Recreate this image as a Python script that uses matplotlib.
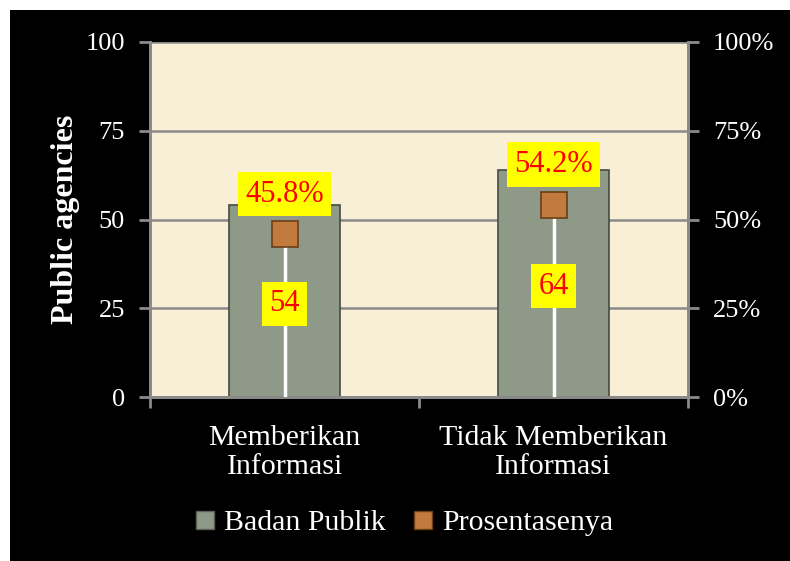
import matplotlib
matplotlib.use("Agg")
import matplotlib.pyplot as plt
from matplotlib.patches import Rectangle
from matplotlib.lines import Line2D

categories = ["Memberikan\nInformasi", "Tidak Memberikan\nInformasi"]
counts = [54, 64]
percents = [45.8, 54.2]
pct_labels = ["45.8%", "54.2%"]
count_labels = ["54", "64"]
left_ticks = [0, 25, 50, 75, 100]
right_ticks = ["0%", "25%", "50%", "75%", "100%"]

W, H = 790, 561
fig = plt.figure(figsize=(W / 100, H / 100), dpi=100, facecolor="white")
fig.patches.append(Rectangle((10 / W, 0), 1 - 10 / W, 1 - 10 / H, transform=fig.transFigure,
                             facecolor="black", edgecolor="none", zorder=-10))

serif = ["Liberation Serif", "DejaVu Serif"]
ax = fig.add_axes([150 / W, 1 - 397 / H, (688 - 150) / W, (397 - 42) / H])
ax.set_facecolor("#F8EFD6")
ax.set_xlim(-0.5, 1.5)
ax.set_ylim(0, 100)

x = list(range(len(categories)))
ax.bar(x, counts, width=0.41, color="#8E9987", edgecolor="#454B42", linewidth=1.2, zorder=2)

ax2 = ax.twinx()
ax2.set_ylim(0, 100)
for xi, p in zip(x, percents):
    ax2.vlines(xi, 0, p, color="white", linewidth=2.5, zorder=3)
ax2.plot(x, percents, linestyle="none", marker="s", markersize=19,
         markerfacecolor="#C27B3C", markeredgecolor="#6B3E16", markeredgewidth=1.2, zorder=4)

bbox = dict(boxstyle="square,pad=0.25", facecolor="#FFFF00", edgecolor="none")
for xi, p, lab in zip(x, percents, pct_labels):
    ax2.text(xi, p + 11.3, lab, ha="center", va="center", color="#FF0000", fontsize=22,
             family=serif, bbox=bbox, zorder=5)
for xi, c, lab in zip(x, counts, count_labels):
    ax2.text(xi, c / 2 - 0.8, lab, ha="center", va="center", color="#FF0000", fontsize=22,
             family=serif, bbox=bbox, zorder=5)

ax.set_yticks(left_ticks)
ax.set_yticklabels([str(t) for t in left_ticks], color="white", fontsize=19, family=serif)
ax2.set_yticks(left_ticks)
ax2.set_yticklabels(right_ticks, color="white", fontsize=19, family=serif)
ax.grid(axis="y", color="#8A8A8A", linewidth=1.8, zorder=1)
ax.set_axisbelow(True)

ax.set_xticks([-0.5, 0.5, 1.5])
ax.set_xticklabels([])
ax.set_xticks(x, minor=True)
ax.set_xticklabels(categories, minor=True, color="white", fontsize=21.5, family=serif, linespacing=1.15)
ax.tick_params(axis="x", which="minor", length=0, pad=20)
ax.tick_params(axis="x", which="major", length=8, width=2, color="#8A8A8A")
ax.tick_params(axis="y", length=8, width=2, color="#8A8A8A", pad=10)
ax2.tick_params(axis="y", length=8, width=2, color="#8A8A8A", pad=10)

for a in (ax, ax2):
    for s in a.spines.values():
        s.set_color("#8A8A8A")
        s.set_linewidth(2)
    a.spines["top"].set_visible(False)

ax.set_ylabel("Public agencies", color="white", fontsize=23, fontweight="bold", family=serif, labelpad=4)

handles = [
    Line2D([], [], linestyle="none", marker="s", markersize=13, markerfacecolor="#8E9987",
           markeredgecolor="#5A6157", label="Badan Publik"),
    Line2D([], [], linestyle="none", marker="s", markersize=13, markerfacecolor="#C27B3C",
           markeredgecolor="#6B3E16", label="Prosentasenya"),
]
leg = fig.legend(handles=handles, loc="center", bbox_to_anchor=(404 / W, 1 - 523 / H), ncol=2,
                 frameon=False, handlelength=0.7, handletextpad=0.3, columnspacing=0.9,
                 prop={"family": serif, "size": 21.5})
for t in leg.get_texts():
    t.set_color("white")

fig.savefig("out.png", dpi=100, facecolor=fig.get_facecolor())
